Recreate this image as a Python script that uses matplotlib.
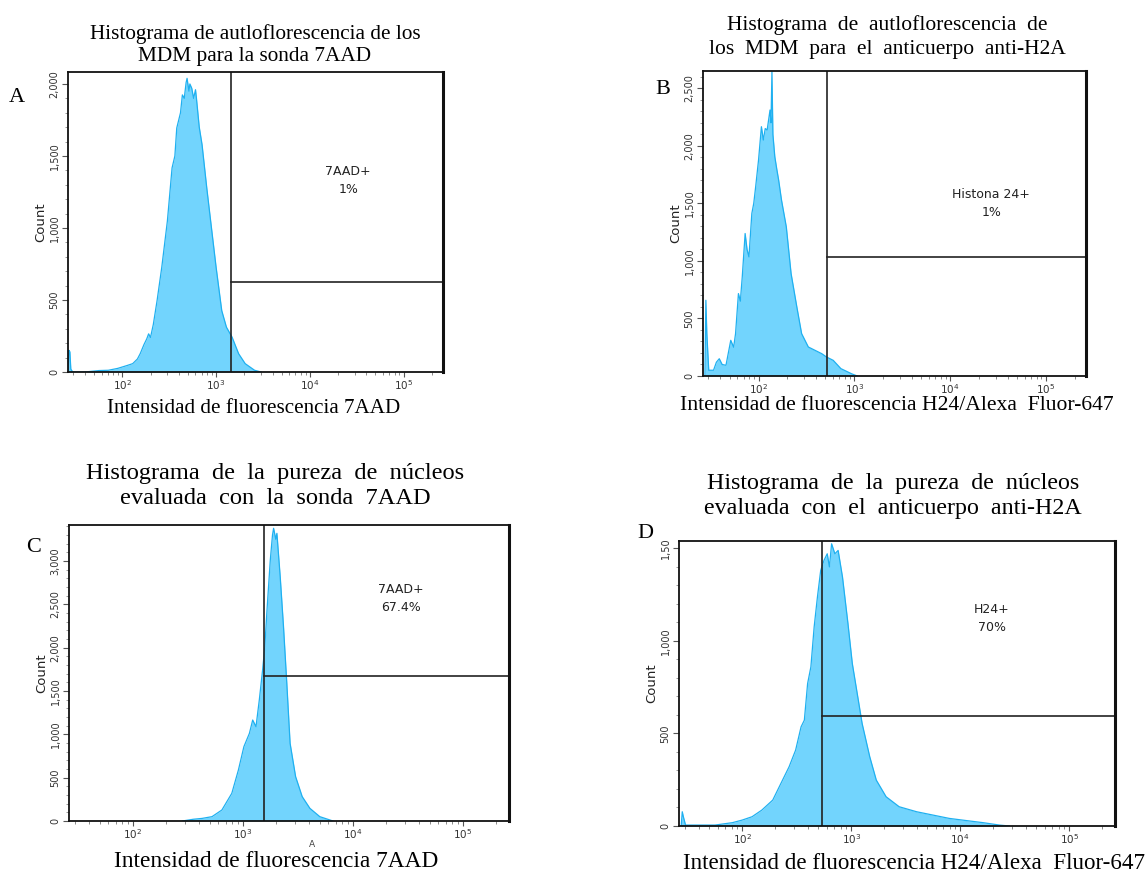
import matplotlib
matplotlib.use("Agg")
import matplotlib.pyplot as plt
import numpy as np
from matplotlib.ticker import FixedLocator, MultipleLocator, FuncFormatter, LogLocator, NullFormatter

# histogram outlines: log10 intensity, count
a_log = [1.42, 1.43, 1.44, 1.45, 1.47, 1.60, 1.75, 1.85, 1.95, 2.00, 2.05, 2.11, 2.16, 2.19, 2.23,
         2.26, 2.28, 2.30, 2.33, 2.37, 2.42, 2.48, 2.53, 2.56, 2.58, 2.62, 2.64, 2.66, 2.68, 2.69,
         2.71, 2.72, 2.74, 2.76, 2.78, 2.79, 2.82, 2.85, 2.90, 2.95, 3.00, 3.06, 3.11, 3.17, 3.24,
         3.31, 3.41, 3.48]
a_cnt = [0, 150, 140, 20, 0, 0, 10, 12, 25, 35, 45, 58, 90, 127, 190,
         230, 265, 240, 330, 495, 726, 1048, 1417, 1500, 1694, 1800, 1924, 1900, 2010, 2039,
         1950, 2000, 1970, 1900, 1960, 1900, 1700, 1578, 1279, 1002, 726, 426, 311, 242, 127,
         58, 12, 0]

b_log = [1.44, 1.45, 1.46, 1.48, 1.53, 1.56, 1.59, 1.62, 1.66, 1.71, 1.74, 1.76, 1.79, 1.81,
         1.83, 1.86, 1.88, 1.90, 1.93, 1.95, 1.97, 2.00, 2.03, 2.05, 2.07, 2.09, 2.12, 2.13, 2.14,
         2.15, 2.17, 2.19, 2.21, 2.24, 2.29, 2.34, 2.40, 2.45, 2.52, 2.59, 2.66, 2.71, 2.78, 2.86,
         2.97, 3.03]
b_cnt = [0, 658, 368, 50, 50, 120, 150, 100, 93, 310, 250, 368, 716, 650,
         861, 1238, 1100, 1035, 1412, 1500, 1644, 1876, 2166, 2050, 2150, 2137, 2311, 2200, 2644,
         2100, 1905, 1800, 1702, 1528, 1296, 890, 600, 368, 252, 223, 194, 165, 136, 64,
         20, 0]

c_log = [2.45, 2.55, 2.63, 2.72, 2.81, 2.90, 2.96, 3.01, 3.06, 3.09, 3.12, 3.15, 3.18, 3.20,
         3.22, 3.25, 3.27, 3.28, 3.30, 3.31, 3.34, 3.37, 3.40, 3.43, 3.48, 3.54, 3.61, 3.70, 3.82]
c_cnt = [0, 20, 30, 50, 127, 319, 588, 858, 1011, 1165, 1088, 1396, 1742, 2011,
         2434, 3011, 3300, 3377, 3250, 3319, 2819, 2242, 1588, 896, 512, 281, 146, 50, 0]

d_log = [1.44, 1.45, 1.46, 1.48, 1.75, 1.91, 2.00, 2.09, 2.18, 2.28, 2.37, 2.43, 2.49, 2.54,
         2.57, 2.60, 2.63, 2.66, 2.69, 2.72, 2.75, 2.78, 2.80, 2.82, 2.85, 2.88, 2.92, 2.97, 3.01,
         3.06, 3.10, 3.17, 3.23, 3.32, 3.44, 3.60, 3.75, 3.90, 4.06, 4.21, 4.36, 4.45]
d_cnt = [0, 77, 50, 5, 5, 18, 32, 50, 86, 140, 248, 320, 410, 536,
         572, 770, 860, 1076, 1237, 1381, 1435, 1471, 1400, 1525, 1471, 1489, 1345, 1094, 878,
         698, 554, 374, 248, 158, 104, 77, 59, 41, 29, 18, 5, 0]

# gates: vertical at intensity (log10), horizontal at count
gate_x = [3.16, 2.71, 3.19, 2.73]
gate_y = [625, 1035, 1673, 595]
ymax = [2083, 2650, 3415, 1540]
gate_text = ["7AAD+\n1%", "Histona 24+\n1%", "7AAD+\n67.4%", "H24+\n70%"]
gate_pos = [(4.41, 1333), (4.43, 1500), (4.44, 2570), (4.29, 1120)]

ytick_vals = [[0, 500, 1000, 1500, 2000],
              [0, 500, 1000, 1500, 2000, 2500],
              [0, 500, 1000, 1500, 2000, 2500, 3000],
              [0, 500, 1000, 1500]]
titles = ["Histograma de autloflorescencia de los\nMDM para la sonda 7AAD",
          "Histograma  de  autloflorescencia  de\nlos  MDM  para  el  anticuerpo  anti-H2A",
          "Histograma  de  la  pureza  de  núcleos\nevaluada  con  la  sonda  7AAD",
          "Histograma  de  la  pureza  de  núcleos\nevaluada  con  el  anticuerpo  anti-H2A"]
xlabels = ["Intensidad de fluorescencia 7AAD",
           "Intensidad de fluorescencia H24/Alexa  Fluor-647",
           "Intensidad de fluorescencia 7AAD",
           "Intensidad de fluorescencia H24/Alexa  Fluor-647"]
letters = ["A", "B", "C", "D"]

W, H = 1148, 872
# pixel boxes: left, top, right, bottom
boxes = [(68, 72, 443, 372), (703, 71, 1086, 376), (69, 525, 509, 821), (679, 541, 1115, 826)]
# x, y, size, line spacing
title_xy = [(255, 45, 15.3, 1.2), (887, 37, 15.5, 1.35), (275, 486, 17.6, 1.3), (893, 496, 17.3, 1.3)]
xlabel_xy = [(254, 408, 15.2), (897, 406, 15.6), (276, 861, 16.8), (914, 863, 16.6)]
letter_xy = [(17, 98), (663, 90), (34, 547), (645, 533)]

fill_c = "#72d4fd"
edge_c = "#1fb0f0"

fig = plt.figure(figsize=(W / 100, H / 100), dpi=100)
data = [(a_log, a_cnt), (b_log, b_cnt), (c_log, c_cnt), (d_log, d_cnt)]

for i in range(4):
    l, t, r, b = boxes[i]
    ax = fig.add_axes([l / W, 1 - b / H, (r - l) / W, (b - t) / H])
    xs = 10 ** np.array(data[i][0])
    ys = np.array(data[i][1])
    ax.fill_between(xs, ys, color=fill_c, lw=0)
    ax.plot(xs, ys, color=edge_c, lw=0.9)
    ax.set_xscale("log")
    ax.set_xlim(10 ** 1.42, 10 ** 5.42)
    ax.set_ylim(0, ymax[i])

    gx = 10 ** gate_x[i]
    ax.plot([gx, gx], [0, ymax[i]], color="#222222", lw=1.2)
    ax.plot([gx, 10 ** 5.42], [gate_y[i], gate_y[i]], color="#222222", lw=1.2)
    tx, ty = gate_pos[i]
    ax.text(10 ** tx, ty, gate_text[i], ha="center", va="center", fontsize=9,
            family="DejaVu Sans", color="#222222", linespacing=1.5)

    for s in ax.spines.values():
        s.set_linewidth(1.3)
        s.set_color("#111111")
    ax.spines["right"].set_linewidth(2.2)

    ax.xaxis.set_major_locator(LogLocator(base=10, numticks=10))
    ax.xaxis.set_minor_locator(LogLocator(base=10, subs=np.arange(2, 10), numticks=20))
    ax.xaxis.set_minor_formatter(NullFormatter())
    ax.tick_params(axis="x", which="major", length=3.5, width=0.8, color="#555555",
                   labelsize=7.5, labelcolor="#333333", pad=1)
    ax.tick_params(axis="x", which="minor", length=2.5, width=0.6, color="#777777")

    ax.yaxis.set_major_locator(FixedLocator(ytick_vals[i]))
    ax.yaxis.set_minor_locator(MultipleLocator(100))
    if i == 3:
        fmt = FuncFormatter(lambda v, p: "1,50" if v == 1500 else f"{int(v):,}")
    else:
        fmt = FuncFormatter(lambda v, p: f"{int(v):,}")
    ax.yaxis.set_major_formatter(fmt)
    ax.tick_params(axis="y", which="major", length=4, width=0.8, color="#555555",
                   labelsize=7, labelcolor="#333333", pad=2)
    ax.tick_params(axis="y", which="minor", length=2.5, width=0.6, color="#888888")
    for lab in ax.get_yticklabels():
        lab.set_rotation(90)
        lab.set_va("center")
    ax.set_ylabel("Count", fontsize=9.5, family="DejaVu Sans", color="#222222", labelpad=2)

    x0, y0, fs, ls = title_xy[i]
    fig.text(x0 / W, 1 - y0 / H, titles[i], ha="center", va="center", fontsize=fs,
             family="Liberation Serif", linespacing=ls)
    x1, y1, fs1 = xlabel_xy[i]
    fig.text(x1 / W, 1 - y1 / H, xlabels[i], ha="center", va="center", fontsize=fs1,
             family="Liberation Serif")
    lx, ly = letter_xy[i]
    fig.text(lx / W, 1 - ly / H, letters[i], ha="center", va="center", fontsize=16,
             family="Liberation Serif")

fig.text(312 / W, 1 - 844 / H, "A", ha="center", va="center", fontsize=6.5,
         family="DejaVu Sans", color="#444444")

fig.savefig("out.png", dpi=100)
